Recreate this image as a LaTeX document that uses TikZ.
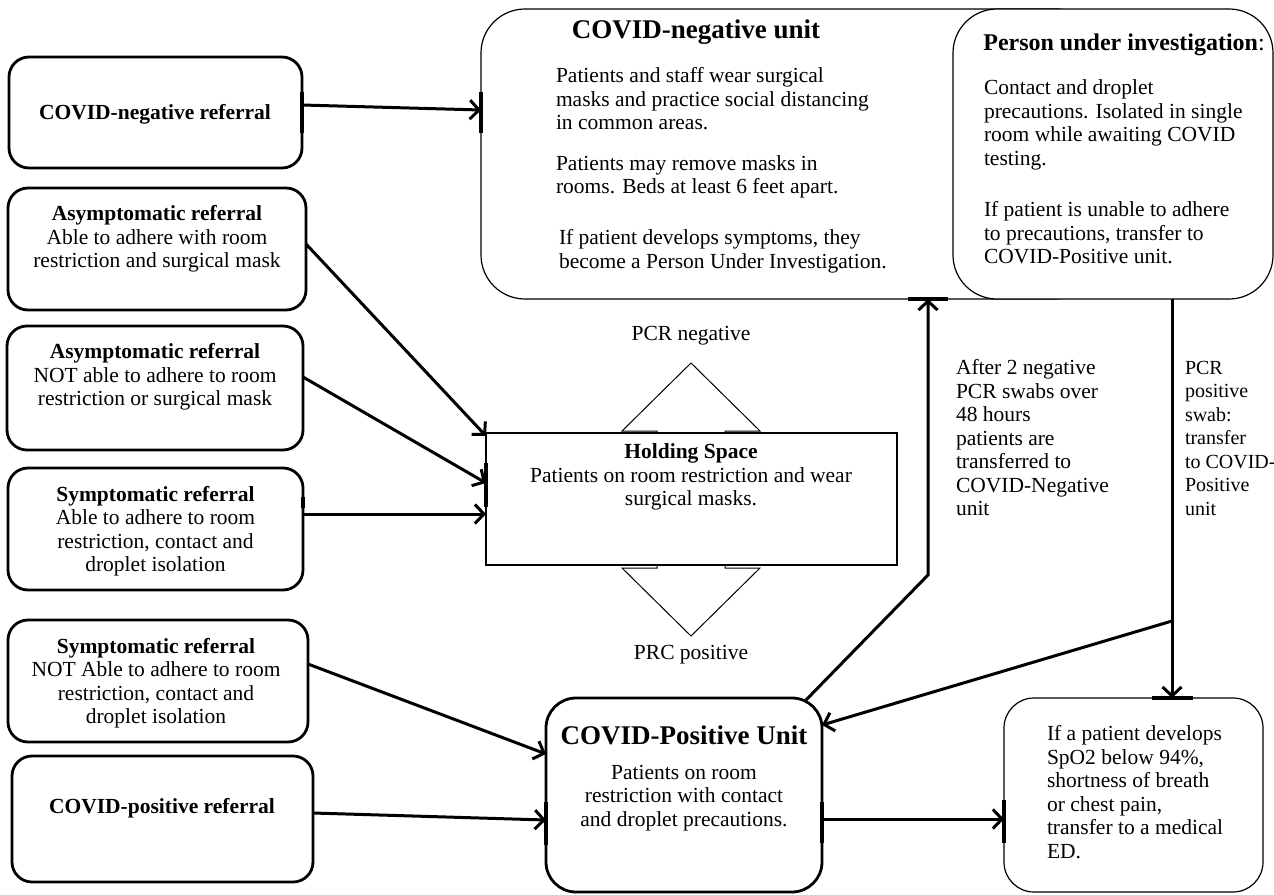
\documentclass[tikz,border=0pt]{standalone}
\usepackage{fontspec}
\setmainfont{Liberation Serif}
\usetikzlibrary{arrows.meta,calc}
\tikzset{
  >={Straight Barb[length=9pt,width=19pt]},
  every node/.style={inner sep=0pt,outer sep=0pt},
  txt/.style={font=\fontsize{21.5}{23.5}\selectfont,align=center},
  txtl/.style={font=\fontsize{21.5}{23.5}\selectfont,align=left,anchor=west},
  ttl/.style={font=\fontsize{27}{30}\selectfont\bfseries},
  refbox/.style={draw,line width=2.8pt,rounded corners=20pt},
  unitbox/.style={draw,line width=1.2pt,rounded corners=44pt,fill=white},
  arr/.style={->,line width=3pt},
  site/.style={line width=3.6pt},   % connector sites left on the box edges
}

\begin{document}
\begin{tikzpicture}[x=1pt,y=-1pt]
  \useasboundingbox (0,0) rectangle (1274,894);

  % referral boxes, left column
  \node[refbox,minimum width=293pt,minimum height=111pt] (a1) at (155.5,112.5) {};
  \node[refbox,minimum width=298pt,minimum height=122pt] (a2) at (157,249) {};
  \node[refbox,minimum width=296pt,minimum height=124pt] (a3) at (155,388) {};
  \node[refbox,minimum width=295pt,minimum height=122pt] (a4) at (155.5,529) {};
  \node[refbox,minimum width=300pt,minimum height=122pt] (a5) at (158,681) {};
  \node[refbox,minimum width=301pt,minimum height=126pt] (a6) at (162.5,819) {};

  \node[txt] (a1t) at (155,114) {\textbf{COVID-negative referral}};
  \node[txt] (a2t) at (157,239) {\textbf{Asymptomatic referral}\\Able to adhere with room\\restriction and surgical mask};
  \node[txt] (a3t) at (155,377) {\textbf{Asymptomatic referral}\\NOT able to adhere to room\\restriction or surgical mask};
  \node[txt] (a4t) at (155.5,531) {\textbf{Symptomatic referral}\\Able to adhere to room\\restriction, contact and\\droplet isolation};
  \node[txt] (a5t) at (156,683) {\textbf{Symptomatic referral}\\NOT Able to adhere to room\\restriction, contact and\\droplet isolation};
  \node[txt] (a6t) at (162,808) {\textbf{COVID-positive referral}};

  % COVID-negative unit and PUI
  \node[unitbox,minimum width=619pt,minimum height=290pt] (neg) at (790.5,154) {};
  \node[unitbox,minimum width=320pt,minimum height=290pt] (pui) at (1113,154) {};

  \node[ttl] (negt) at (696,32) {COVID-negative unit};
  \node[txtl] (neg1) at (556,99) {Patients and staff wear surgical\\masks and practice social distancing\\in common areas.};
  \node[txtl] (neg2) at (556,177) {Patients may remove masks in\\rooms. Beds at least 6 feet apart.};
  \node[txtl] (neg3) at (559,251) {If patient develops symptoms, they\\become a Person Under Investigation.};

  \node[font=\fontsize{24}{28}\selectfont] (puit) at (1124,45) {\textbf{Person under investigation}:};
  \node[txtl] (pui1) at (984,125) {Contact and droplet\\precautions. Isolated in single\\room while awaiting COVID\\testing.};
  \node[txtl] (pui2) at (984,233) {If patient is unable to adhere\\to precautions, transfer to\\COVID-Positive unit.};

  % holding space with the up/down arrow behind it
  \draw[line width=1pt,fill=white] (691,363) -- (760,431) -- (725,431) -- (725,568) -- (760,568)
    -- (691,636) -- (622,568) -- (657,568) -- (657,431) -- (622,431) -- cycle;
  \node[draw,line width=1.2pt,fill=white,minimum width=411pt,minimum height=132pt] (hold) at (691.5,499) {};
  \node[txt] (holdt) at (691,477) {\textbf{Holding Space}\\Patients on room restriction and wear\\surgical masks.};
  \node[txt] (pneg) at (691,336) {PCR negative};
  \node[txt] (ppos) at (691,655) {PRC positive};

  % COVID-positive unit and ED box
  \node[draw,line width=2.8pt,rounded corners=30pt,minimum width=276pt,minimum height=194pt] (pos) at (684,795) {};
  \node[ttl] (post) at (684,735) {COVID-Positive Unit};
  \node[txt] (posb) at (684,798) {Patients on room\\restriction with contact\\and droplet precautions.};

  \node[draw,line width=1.2pt,rounded corners=30pt,minimum width=259pt,minimum height=194pt] (ed) at (1133.5,795) {};
  \node[txtl] (edt) at (1047,792) {If a patient develops\\SpO2 below 94\%,\\shortness of breath\\or chest pain,\\transfer to a medical\\ED.};

  % side labels
  \node[txtl] (lneg) at (956,438) {After 2 negative\\PCR swabs over\\48 hours\\patients are\\transferred to\\COVID-Negative\\unit};
  \node[txtl,font=\fontsize{20}{23.5}\selectfont] (lpos) at (1185,438) {PCR\\positive\\swab:\\transfer\\to COVID-\\Positive\\unit};

  % connectors
  \draw[arr] ([yshift=7.5pt]a1.east) -- ([yshift=44pt]neg.west);
  \draw[arr] ([yshift=5pt]a2.east) -- ([yshift=-3pt]hold.north west);
  \draw[arr] ([yshift=11pt]a3.east) -- ([yshift=16pt]hold.west);
  \draw[arr] ([yshift=15pt]a4.east) -- ([yshift=-15pt]hold.west);
  \draw[arr] ([yshift=17pt]a5.east) -- ([yshift=41pt]pos.west);
  \draw[arr] ([yshift=6pt]a6.east) -- ([yshift=-25pt]pos.west);

  \coordinate (bnd) at (928,575);
  \draw[arr] ([xshift=-16pt,yshift=-2pt]pos.north east) -- (bnd) -- (bnd |- neg.south);

  \coordinate (jn) at (1172,621);
  \draw[line width=3pt] (jn |- pui.south) -- (jn);
  \draw[arr] (jn) -- (jn |- ed.north);
  \draw[arr] (jn) -- ([yshift=70pt]pos.east);
  \draw[arr] ([yshift=-24pt]pos.east) -- ([yshift=-24pt]ed.west);

  % sites
  \draw[site] (908,299) -- (948,299);
  \draw[site] (1152,698) -- (1193,698);
  \draw[site] (546,802) -- (546,845);
  \draw[site] (822,802) -- (822,843);
  \draw[site] (1004,800) -- (1004,843);
  \draw[site] (302,92) -- (302,133);
  \draw[site] (481,92) -- (481,133);
  \draw[site] (303,497) -- (303,508);
  \draw[site] (486,463) -- (486,507);
\end{tikzpicture}
\end{document}
